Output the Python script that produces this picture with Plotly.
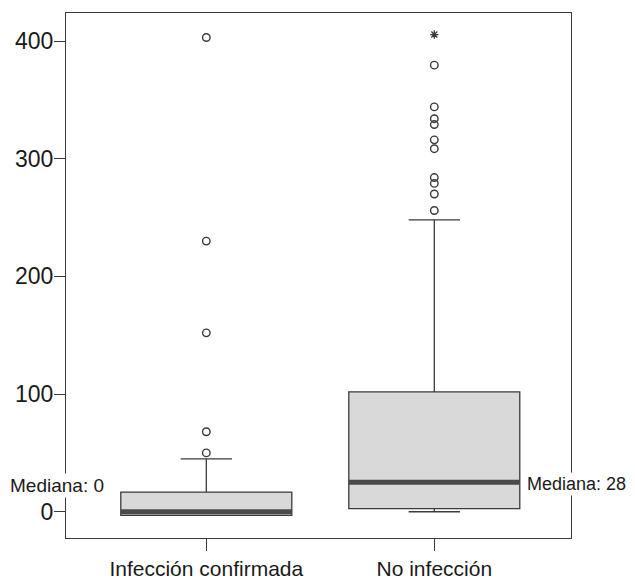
import plotly.graph_objects as go

# ---- data ----
categories = ["Infección confirmada", "No infección"]
positions = [1, 2]
q1 = [-3, 2.6]
median = [0, 25]
q3 = [16.7, 101.8]
lower_fence = [-3, 0]
upper_fence = [45, 248]
outliers = [
    [50, 68, 152, 230, 403],
    [256, 270, 279, 284, 308.5, 316, 329, 334, 344, 379.5],
]
extremes = [[], [405.5]]
median_labels = ["Mediana: 0", "Mediana: 28"]
y_ticks = [0, 100, 200, 300, 400]

# ---- styles ----
BOX_W = 0.75
FONT = "Liberation Sans, Arial, sans-serif"
LINE_C = "#3a3a3a"
TEXT_C = "#1a1a1a"

fig = go.Figure()

for i in range(len(categories)):
    fig.add_trace(go.Box(
        x=[positions[i]],
        q1=[q1[i]], median=[median[i]], q3=[q3[i]],
        lowerfence=[lower_fence[i]], upperfence=[upper_fence[i]],
        width=BOX_W, whiskerwidth=0.3,
        fillcolor="#d9d9d9",
        line=dict(color=LINE_C, width=1.3),
        boxpoints=False, showlegend=False, hoverinfo="skip",
    ))
    # thick median bar
    fig.add_trace(go.Scatter(
        x=[positions[i] - BOX_W / 2, positions[i] + BOX_W / 2],
        y=[median[i], median[i]],
        mode="lines", line=dict(color="#4a4a4a", width=5),
        showlegend=False, hoverinfo="skip",
    ))
    fig.add_trace(go.Scatter(
        x=[positions[i]] * len(outliers[i]), y=outliers[i],
        mode="markers",
        marker=dict(symbol="circle-open", size=7.5, color=LINE_C,
                    line=dict(width=1.4, color=LINE_C)),
        showlegend=False, hoverinfo="skip",
    ))
    if extremes[i]:
        fig.add_trace(go.Scatter(
            x=[positions[i]] * len(extremes[i]), y=extremes[i],
            mode="markers",
            marker=dict(symbol="asterisk-open", size=7, color=LINE_C,
                        line=dict(width=1.3, color=LINE_C)),
            showlegend=False, hoverinfo="skip",
        ))

# figure placed at page offset (8, 8) by the default body margin
W, H = 627, 571
ML, MT = 58, 5
PW, PH = 505, 525
MR, MB = W - ML - PW, H - MT - PH

fig.add_annotation(text=median_labels[0], xref="paper", yref="paper",
                   x=(0 - ML) / PW, y=(538.3 - 486) / PH, xanchor="left", yanchor="middle",
                   showarrow=False, bgcolor="white", borderpad=1,
                   font=dict(size=19, color=TEXT_C, family=FONT))
fig.add_annotation(text=median_labels[1], xref="paper", yref="paper",
                   x=(517 - ML) / PW, y=(538.3 - 484) / PH, xanchor="left", yanchor="middle",
                   showarrow=False, bgcolor="white", borderpad=1,
                   font=dict(size=18, color=TEXT_C, family=FONT))

fig.update_layout(
    width=W, height=H,
    margin=dict(l=ML, r=MR, t=MT, b=MB, autoexpand=False),
    paper_bgcolor="white", plot_bgcolor="white",
    font=dict(family=FONT, color=TEXT_C),
    xaxis=dict(
        range=[0.3846, 2.5996], tickvals=positions, ticktext=categories,
        showgrid=False, zeroline=False,
        showline=True, mirror=True, linecolor=LINE_C, linewidth=1.3,
        ticks="outside", ticklen=12, tickcolor=LINE_C, tickwidth=1.3,
        ticklabelstandoff=0,
        tickfont=dict(size=21, color=TEXT_C),
    ),
    yaxis=dict(
        range=[-22.3, 423.8], tickvals=y_ticks,
        showgrid=False, zeroline=False,
        showline=True, mirror=True, linecolor=LINE_C, linewidth=1.3,
        ticks="outside", ticklen=11, tickcolor=LINE_C, tickwidth=1.3,
        ticklabelstandoff=-4,
        tickfont=dict(size=23, color=TEXT_C),
    ),
)

fig.write_html("out.html")
